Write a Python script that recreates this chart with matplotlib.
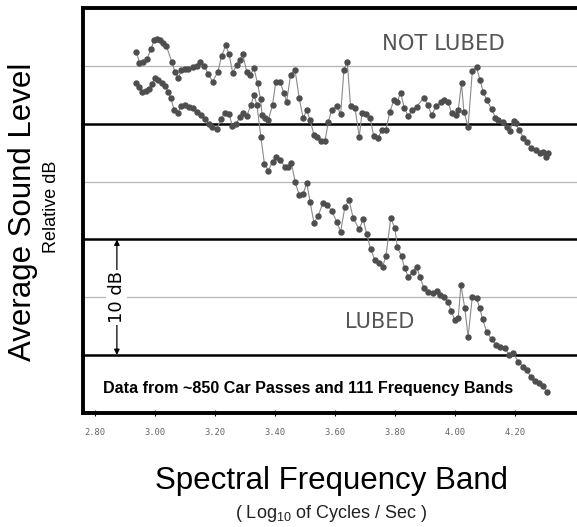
import numpy as np
import matplotlib
matplotlib.use("Agg")
from matplotlib import pyplot as plt

plt.rcParams['font.family'] = ['Liberation Sans', 'DejaVu Sans']
plt.rcParams['mathtext.default'] = 'regular'

# log10 frequency band and relative dB
notlubed_x = [2.938, 2.948, 2.960, 2.973, 2.987, 2.997, 3.007, 3.018, 3.028, 3.038,
              3.056, 3.067, 3.078, 3.088, 3.100, 3.111, 3.128, 3.139, 3.150, 3.164,
              3.178, 3.192, 3.210, 3.222, 3.236, 3.247, 3.259, 3.273, 3.283, 3.292,
              3.306, 3.317, 3.330, 3.342, 3.352, 3.357, 3.367, 3.378, 3.392, 3.403,
              3.417, 3.430, 3.439, 3.452, 3.467, 3.481, 3.494, 3.506, 3.517, 3.530,
              3.541, 3.552, 3.567, 3.578, 3.589, 3.606, 3.619, 3.630, 3.641, 3.652,
              3.667, 3.681, 3.690, 3.704, 3.717, 3.729, 3.744, 3.757, 3.770, 3.783,
              3.797, 3.808, 3.819, 3.831, 3.845, 3.856, 3.872, 3.896, 3.910, 3.922,
              3.938, 3.952, 3.964, 3.977, 3.989, 4.003, 4.011, 4.022, 4.030, 4.044,
              4.058, 4.072, 4.083, 4.094, 4.106, 4.122, 4.135, 4.145, 4.160, 4.173,
              4.182, 4.196, 4.203, 4.214, 4.228, 4.240, 4.255, 4.269, 4.282, 4.293,
              4.302, 4.310]
notlubed_db = [26.26, 25.32, 25.37, 25.63, 26.49, 27.23, 27.32, 27.23, 27.04, 26.75,
               25.39, 24.50, 23.96, 24.68, 24.74, 24.74, 24.91, 25.02, 25.39, 25.02,
               24.33, 23.66, 24.53, 25.89, 26.80, 26.06, 24.44, 25.11, 25.50, 26.06,
               24.53, 24.24, 24.81, 23.52, 22.16, 20.78, 20.49, 20.35, 21.65, 23.66,
               23.66, 22.66, 21.93, 24.24, 24.68, 22.23, 20.49, 21.21, 20.35, 19.05,
               18.90, 18.55, 18.55, 20.20, 21.21, 21.56, 20.84, 24.68, 25.39, 21.56,
               21.36, 18.90, 20.93, 20.87, 20.52, 19.00, 18.81, 19.51, 19.48, 21.06,
               22.08, 21.93, 22.71, 21.39, 20.65, 21.21, 21.47, 22.27, 21.65, 20.78,
               21.53, 21.90, 22.08, 21.93, 20.93, 20.78, 21.21, 23.52, 21.06, 19.77,
               24.59, 24.94, 23.85, 22.81, 22.08, 21.30, 20.56, 20.35, 20.20, 19.74,
               19.39, 20.30, 20.06, 19.48, 18.83, 18.40, 17.92, 17.75, 17.45, 17.58,
               17.14, 17.46]

lubed_x = [2.936, 2.947, 2.958, 2.969, 2.980, 2.989, 3.000, 3.011, 3.022, 3.033,
           3.044, 3.053, 3.064, 3.076, 3.087, 3.100, 3.113, 3.128, 3.139, 3.153,
           3.167, 3.180, 3.191, 3.206, 3.220, 3.233, 3.247, 3.258, 3.270, 3.283,
           3.294, 3.306, 3.320, 3.330, 3.340, 3.353, 3.365, 3.378, 3.392, 3.405,
           3.418, 3.433, 3.444, 3.455, 3.467, 3.481, 3.494, 3.506, 3.517, 3.530,
           3.544, 3.559, 3.574, 3.589, 3.606, 3.619, 3.633, 3.647, 3.661, 3.681,
           3.694, 3.706, 3.719, 3.733, 3.748, 3.759, 3.770, 3.786, 3.800, 3.808,
           3.822, 3.832, 3.845, 3.859, 3.872, 3.883, 3.897, 3.911, 3.926, 3.939,
           3.950, 3.963, 3.978, 3.986, 4.000, 4.011, 4.020, 4.033, 4.044, 4.058,
           4.072, 4.083, 4.092, 4.106, 4.122, 4.137, 4.150, 4.167, 4.181, 4.194,
           4.211, 4.228, 4.241, 4.252, 4.267, 4.281, 4.292, 4.306]
lubed_db = [23.58, 23.18, 22.80, 22.88, 23.00, 23.46, 23.96, 23.81, 23.52, 23.29,
            22.80, 22.23, 21.21, 20.93, 21.56, 21.65, 21.50, 21.36, 21.06, 20.78,
            20.41, 20.00, 19.71, 19.54, 20.41, 20.98, 20.87, 19.83, 19.96, 20.61,
            20.93, 20.69, 21.65, 22.51, 21.65, 18.87, 16.54, 15.97, 16.74, 17.17,
            16.84, 16.30, 16.30, 16.60, 15.00, 13.85, 13.94, 14.92, 13.27, 11.45,
            12.03, 13.13, 12.99, 12.49, 11.54, 10.68, 12.79, 13.42, 11.84, 10.88,
            11.75, 10.48, 9.15, 8.23, 7.99, 7.65, 8.57, 11.84, 10.97, 9.32,
            8.57, 7.51, 6.78, 7.21, 7.65, 6.78, 5.77, 5.48, 5.39, 5.57,
            5.19, 5.00, 4.61, 3.84, 3.03, 3.18, 6.06, 4.04, 1.58, 5.05,
            4.91, 4.04, 3.09, 2.02, 1.36, 0.87, 0.72, 0.58, 0.00, 0.15,
            -0.58, -1.01, -1.30, -1.93, -2.23, -2.40, -2.68, -3.18]

xticks = [2.8, 3.0, 3.2, 3.4, 3.6, 3.8, 4.0, 4.2]
xticklabels = ["2.80", "3.00", "3.20", "3.40", "3.60", "3.80", "4.00", "4.20"]

fig = plt.figure(figsize=(5.77, 5.27), dpi=100)
ax = fig.add_axes([0.1433, 0.2168, 0.8567, 0.7671])

for lev in [5, 15, 25]:
    ax.axhline(lev, color="#b5b5b5", lw=0.9, zorder=1)
for lev in [0, 10, 20]:
    ax.axhline(lev, color="black", lw=1.8, zorder=1)

for xs, ys in [(notlubed_x, notlubed_db), (lubed_x, lubed_db)]:
    ax.plot(xs, ys, color="#8a8a8a", lw=0.8, zorder=2)
    ax.plot(xs, ys, ls="none", marker="o", ms=3.6, color="#4e4e4e", zorder=3)

ax.set_xlim(2.759, 4.407)
ax.set_ylim(-5, 30)
ax.set_yticks([])
ax.set_xticks(xticks)
ax.set_xticklabels(xticklabels, family="DejaVu Sans Mono", fontsize=6.3, color="#666666")
ax.tick_params(axis="x", direction="inout", length=4, width=0.8, pad=9)

for side in ["left", "bottom", "top"]:
    ax.spines[side].set_linewidth(2.8)
ax.spines["right"].set_visible(False)

ax.text(3.963, 26.95, "NOT LUBED", ha="center", va="center", fontsize=15.2,
        family="DejaVu Sans", color="#555555")
ax.text(3.75, 2.86, "LUBED", ha="center", va="center", fontsize=15,
        family="DejaVu Sans", color="#555555")
ax.text(3.51, -2.86, "Data from ~850 Car Passes and 111 Frequency Bands",
        ha="center", va="center", fontsize=11.6, fontweight="bold", color="black")

ax.annotate("", xy=(2.873, 10), xytext=(2.873, 0),
            arrowprops=dict(arrowstyle="<|-|>", color="black", lw=0.9,
                            mutation_scale=8, shrinkA=0, shrinkB=0))
ax.text(2.873, 5.0, "10 dB", rotation=90, ha="center", va="center", fontsize=13,
        family="DejaVu Sans", color="black",
        bbox=dict(facecolor="white", edgecolor="none", pad=1))

fig.text(0.040, 0.598, "Average Sound Level", rotation=90, ha="center", va="center",
         fontsize=22.5)
fig.text(0.090, 0.607, "Relative dB", rotation=90, ha="center", va="center",
         fontsize=13)
fig.text(0.575, 0.088, "Spectral Frequency Band", ha="center", va="center",
         fontsize=22.5)
fig.text(0.575, 0.026, "( Log$_{10}$ of Cycles / Sec )", ha="center", va="center",
         fontsize=13, color="#222222")

fig.savefig("out.png", dpi=100)
